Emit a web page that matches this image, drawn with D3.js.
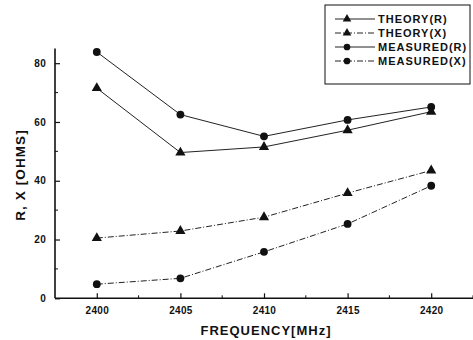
<!DOCTYPE html>
<html>
<head>
<meta charset="utf-8">
<script src="https://cdn.jsdelivr.net/npm/d3@7"></script>
<style>
  body { margin: 0; background: #fff; }
  text { font-family: "Liberation Sans", Arial, sans-serif; font-weight: bold; fill: #111; }
</style>
</head>
<body>
<div id="chart"></div>
<script>
// frequency points (MHz)
var freqs = [2400, 2405, 2410, 2415, 2420];

// series values, ohms
var theoryR   = [71.5, 49.6, 51.5, 57.2, 63.5];
var theoryX   = [20.5, 22.9, 27.6, 35.8, 43.5];
var measuredR = [83.8, 62.5, 55.1, 60.7, 65.1];
var measuredX = [4.8, 6.8, 15.8, 25.3, 38.3];

var seriesNames = ["THEORY(R)", "THEORY(X)", "MEASURED(R)", "MEASURED(X)"];
var xTicks = [2400, 2405, 2410, 2415, 2420];
var yTicks = [0, 20, 40, 60, 80];

var width = 473, height = 340;
// plot edges (note: "top" is reserved on window, so use plotTop)
var plotLeft = 55, plotBottom = 298.3, plotTop = 48.5, plotRight = 473;

var svg = d3.select("#chart").append("svg")
  .attr("width", width)
  .attr("height", height);

var x = d3.scaleLinear().domain([2397.5, 2422.5]).range([plotLeft, plotRight]);
var y = d3.scaleLinear().domain([0, 85]).range([plotBottom, plotTop]);

// series config: marker shape + dashed or not
var series = [
  { name: seriesNames[0], vals: theoryR,   sym: d3.symbolTriangle, dash: null },
  { name: seriesNames[1], vals: theoryX,   sym: d3.symbolTriangle, dash: "6,2,1,2" },
  { name: seriesNames[2], vals: measuredR, sym: d3.symbolCircle,   dash: null },
  { name: seriesNames[3], vals: measuredX, sym: d3.symbolCircle,   dash: "6,2,1,2" }
];

// axes, ticks pointing inward
var xAxis = d3.axisBottom(x).tickValues(xTicks).tickSize(-5).tickPadding(9).tickFormat(d3.format("d"));
var yAxis = d3.axisLeft(y).tickValues(yTicks).tickSize(-5).tickPadding(9);

var gx = svg.append("g").attr("transform", "translate(0," + plotBottom + ")").call(xAxis);
var gy = svg.append("g").attr("transform", "translate(" + plotLeft + ",0)").call(yAxis);

[gx, gy].forEach(function(g) {
  g.select(".domain").attr("stroke", "#111").attr("stroke-width", 1.6);
  g.selectAll(".tick line").attr("stroke", "#111").attr("stroke-width", 1.2);
  g.selectAll(".tick text")
    .style("font-size", "10px")
    .style("letter-spacing", "0.3px")
    .style("font-family", "Liberation Sans, Arial, sans-serif")
    .style("font-weight", "bold");
});
gx.select(".domain").attr("d", "M" + plotLeft + ",0H" + plotRight);
gy.select(".domain").attr("d", "M0," + plotTop + "V" + plotBottom);

// minor ticks
var xMinor = [2402.5, 2407.5, 2412.5, 2417.5, 2422.5];
var yMinor = [10, 30, 50, 70];
gx.selectAll(".minor").data(xMinor).enter().append("line")
  .attr("x1", function(d) { return x(d); }).attr("x2", function(d) { return x(d); })
  .attr("y1", 0).attr("y2", -3).attr("stroke", "#111");
gy.selectAll(".minor").data(yMinor).enter().append("line")
  .attr("y1", function(d) { return y(d); }).attr("y2", function(d) { return y(d); })
  .attr("x1", 0).attr("x2", 3).attr("stroke", "#111");

// lines and markers
var line = d3.line()
  .x(function(d, i) { return x(freqs[i]); })
  .y(function(d) { return y(d); });

series.forEach(function(s) {
  svg.append("path")
    .datum(s.vals)
    .attr("d", line)
    .attr("fill", "none")
    .attr("stroke", "#222")
    .attr("stroke-width", 1)
    .attr("stroke-dasharray", s.dash);
  svg.selectAll(null).data(s.vals).enter().append("path")
    .attr("d", d3.symbol().type(s.sym).size(s.sym === d3.symbolCircle ? 48 : 45))
    .attr("transform", function(d, i) { return "translate(" + x(freqs[i]) + "," + y(d) + ")"; })
    .attr("fill", "#111");
});

// axis titles
svg.append("text")
  .attr("x", 266).attr("y", 335)
  .attr("text-anchor", "middle")
  .style("font-size", "13px")
  .style("letter-spacing", "1px")
  .text("FREQUENCY[MHz]");
svg.append("text")
  .attr("transform", "translate(25,175) rotate(-90)")
  .attr("text-anchor", "middle")
  .style("font-size", "13.5px")
  .style("letter-spacing", "1.1px")
  .text("R, X [OHMS]");

// legend
var lg = svg.append("g");
lg.append("rect")
  .attr("x", 325).attr("y", 5).attr("width", 145).attr("height", 79)
  .attr("fill", "#fff").attr("stroke", "#111").attr("stroke-width", 1);
var ly = d3.scalePoint().domain(seriesNames).range([19, 61]);
series.forEach(function(s) {
  var yy = ly(s.name);
  lg.append("line")
    .attr("x1", 335).attr("x2", 375).attr("y1", yy).attr("y2", yy)
    .attr("stroke", "#222").attr("stroke-width", 1)
    .attr("stroke-dasharray", s.dash);
  lg.append("path")
    .attr("d", d3.symbol().type(s.sym).size(s.sym === d3.symbolCircle ? 35 : 32))
    .attr("transform", "translate(347," + yy + ")")
    .attr("fill", "#111");
  lg.append("text")
    .attr("x", 378).attr("y", yy + 4)
    .style("font-size", "11px")
    .style("letter-spacing", "1px")
    .text(s.name);
});
</script>
</body>
</html>
